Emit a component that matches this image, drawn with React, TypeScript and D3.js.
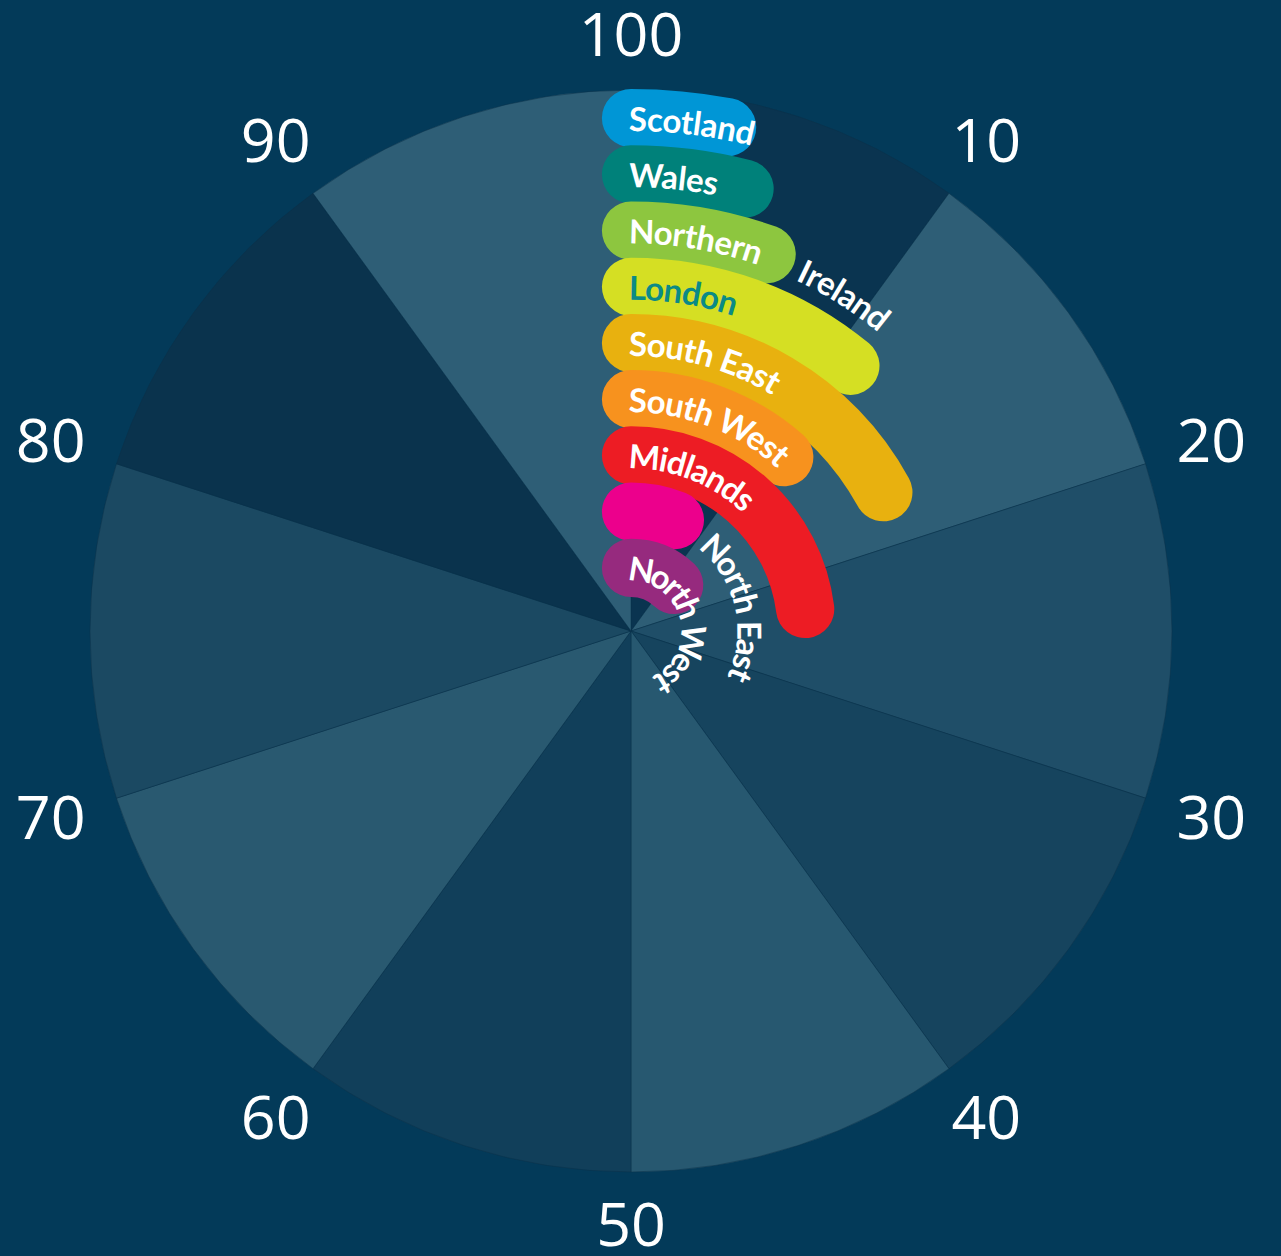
import React from "react";
import * as d3 from "d3";

// ---- data ----
const regions = [
  "Scotland",
  "Wales",
  "Northern Ireland",
  "London",
  "South East",
  "South West",
  "Midlands",
  "North East",
  "North West",
];
const values = [3, 4, 5.5, 11, 17, 11.5, 23, 6, 12];
const barColors = [
  "#0096D6",
  "#00817A",
  "#8DC63F",
  "#D5DF23",
  "#E8B10F",
  "#F7921E",
  "#ED1C24",
  "#EC008C",
  "#962A7E",
];
const labelColors = ["#FFFFFF", "#FFFFFF", "#FFFFFF", "#0B8A86", "#FFFFFF", "#FFFFFF", "#FFFFFF", "#FFFFFF", "#FFFFFF"];
// text written inside the bar (from the start) and text continuing past the bar's end
const labelInside = ["Scotland", "Wales", "Northern", "London", "South East", "South West", "Midlands", "", "North West"];
const labelAfter = ["", "", "Ireland", "", "", "", "", "North East", ""];

const tickValues = [0, 10, 20, 30, 40, 50, 60, 70, 80, 90];
const tickLabels = ["100", "10", "20", "30", "40", "50", "60", "70", "80", "90"];
const wedgeColors = [
  "#0A3450",
  "#2E5E76",
  "#1F4E68",
  "#16445E",
  "#275870",
  "#113F5A",
  "#295970",
  "#1B4962",
  "#0A334D",
  "#2E5E76",
];

const W = 1281;
const H = 1256;
const cx = 631;
const cy = 631;
const outerR = 541;
const innerR = 35;

export default function App() {
  const angle = d3.scaleLinear().domain([0, 100]).range([0, 2 * Math.PI]);
  const band = d3.scaleBand<string>().domain(regions).range([innerR, outerR]).paddingInner(0);
  const bw = band.bandwidth();
  const strokeW = bw + 2;
  // first region on the outside
  const rOf = (name: string) => outerR + innerR - ((band(name) as number) + bw / 2);

  const wedgeArc = d3.arc<any>();

  const arcPath = (r: number, a0: number, a1: number) => {
    const p = d3.path();
    p.arc(0, 0, r, a0 - Math.PI / 2, a1 - Math.PI / 2, false);
    return p.toString();
  };

  const lead = 0.4; // radians of path before 12 o'clock for label paths

  return (
    <svg
      width={W}
      height={H}
      style={{ position: "absolute", left: 0, top: 0, display: "block" }}
      xmlns="http://www.w3.org/2000/svg"
    >
      <rect x={0} y={0} width={W} height={H} fill="#033A59" />
      <defs>
        {regions.map((name, i) => (
          <path key={name} id={`lp${i}`} d={arcPath(rOf(name), -lead, 2 * Math.PI - lead)} />
        ))}
      </defs>
      <g transform={`translate(${cx},${cy})`}>
        {tickValues.map((t, i) => (
          <path
            key={`w${t}`}
            d={
              wedgeArc({
                innerRadius: 0,
                outerRadius: outerR,
                startAngle: angle(t),
                endAngle: angle(t + 10),
              }) as string
            }
            fill={wedgeColors[i]}
            stroke="#0B3049"
            strokeWidth={0.7}
            strokeOpacity={0.7}
          />
        ))}
        {regions.map((name, i) => (
          <path
            key={`b${name}`}
            d={arcPath(rOf(name), 0, angle(values[i]))}
            fill="none"
            stroke={barColors[i]}
            strokeWidth={strokeW}
            strokeLinecap="round"
          />
        ))}
        {regions.map((name, i) => {
          const r = rOf(name);
          const items: any[] = [];
          if (labelInside[i]) {
            items.push(
              <text
                key={`ti${i}`}
                fontFamily="Lato, 'Open Sans', sans-serif"
                fontWeight={700}
                fontSize={33}
                fill={labelColors[i]}
                dominantBaseline="central"
              >
                <textPath href={`#lp${i}`} startOffset={r * lead - 2}>
                  {labelInside[i]}
                </textPath>
              </text>
            );
          }
          if (labelAfter[i]) {
            const endA = angle(values[i]) + strokeW / 2 / r + 8 / r;
            items.push(
              <text
                key={`ta${i}`}
                fontFamily="Lato, 'Open Sans', sans-serif"
                fontWeight={700}
                fontSize={33}
                fill="#FFFFFF"
                dominantBaseline="central"
              >
                <textPath href={`#lp${i}`} startOffset={r * (lead + endA)}>
                  {labelAfter[i]}
                </textPath>
              </text>
            );
          }
          return <g key={`l${i}`}>{items}</g>;
        })}
        {tickValues.map((t, i) => {
          const a = angle(t);
          const tr = 595 + 16 * Math.abs(Math.sin(a));
          return (
            <text
              key={`t${t}`}
              x={tr * Math.sin(a)}
              y={-tr * Math.cos(a) - 4}
              textAnchor="middle"
              dominantBaseline="central"
              fontFamily="'Open Sans', Lato, sans-serif"
              fontSize={61}
              fill="#FFFFFF"
            >
              {tickLabels[i]}
            </text>
          );
        })}
      </g>
    </svg>
  );
}
